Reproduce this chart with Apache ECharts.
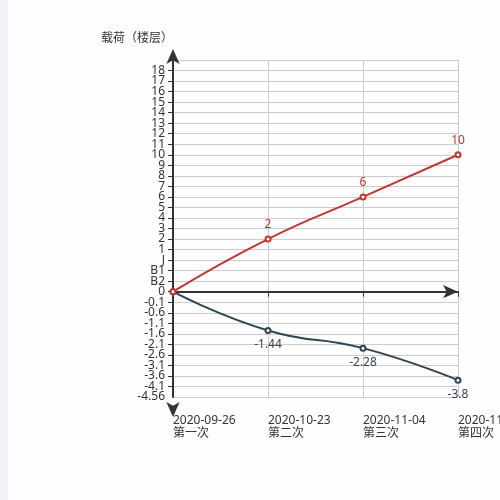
<!DOCTYPE html>
<html>
<head>
<meta charset="utf-8">
<script src="https://cdn.jsdelivr.net/npm/echarts@6/dist/echarts.min.js"></script>
<style>
  html, body { margin: 0; padding: 0; background: #fefefe; }
  #strip { position: absolute; left: 0; top: 0; width: 8px; height: 500px; background: #f2f3f8; }
  #chart { position: absolute; left: 0; top: 0; width: 500px; height: 500px; }
</style>
</head>
<body>
<div id="strip"></div>
<div id="chart"></div>
<script>
// Categories (x axis)
const dates = ['2020-09-26', '2020-10-23', '2020-11-04', '2020-11-19'];
const rounds = ['第一次', '第二次', '第三次', '第四次'];
// Y tick labels from bottom to top (evenly spaced positions)
const yTickLabels = ['-4.56', '-4.1', '-3.6', '-3.1', '-2.6', '-2.1', '-1.6', '-1.1', '-0.6', '-0.1',
  '0', 'B2', 'B1', 'J',
  '1', '2', '3', '4', '5', '6', '7', '8', '9', '10', '11', '12', '13', '14', '15', '16', '17', '18', ''];
// Series values
const upValues = [0, 2, 6, 10];
const downValues = [0, -1.44, -2.28, -3.8];

const zeroIndex = yTickLabels.indexOf('0');
const axisMin = -zeroIndex;
const axisMax = yTickLabels.length - 1 - zeroIndex;

// Map a real value onto the evenly spaced tick-label axis (piecewise linear between numeric ticks)
const numericTicks = [];
yTickLabels.forEach((s, i) => {
  if (s !== '' && !isNaN(Number(s))) numericTicks.push([Number(s), i - zeroIndex]);
});
function toAxis(v) {
  for (let k = 0; k < numericTicks.length - 1; k++) {
    const a = numericTicks[k], b = numericTicks[k + 1];
    if (v === a[0]) return a[1];
    if (v === b[0]) return b[1];
    if (v > a[0] && v < b[0]) return a[1] + (v - a[0]) / (b[0] - a[0]) * (b[1] - a[1]);
  }
  return v < numericTicks[0][0] ? numericTicks[0][1] : numericTicks[numericTicks.length - 1][1];
}
function tickLabel(v) {
  const i = Math.round(v) + zeroIndex;
  return yTickLabels[i] !== undefined ? yTickLabels[i] : '';
}

const font = '"Microsoft YaHei", "Noto Sans", "Noto Sans CJK SC", sans-serif';
const chart = echarts.init(document.getElementById('chart'));
chart.setOption({
  backgroundColor: 'transparent',
  animation: false,
  textStyle: { fontFamily: font },
  grid: { left: 173, right: 42, top: 60, bottom: 103, containLabel: false, outerBoundsMode: 'none' },
  xAxis: [{
    type: 'category',
    data: dates,
    boundaryGap: false,
    axisLine: { onZero: true, symbol: ['none', 'arrow'], symbolOffset: [0, 0],
      lineStyle: { color: '#333', width: 2 } },
    axisTick: { show: true, length: 5, lineStyle: { color: '#333' } },
    axisLabel: { show: false },
    splitLine: { show: true, lineStyle: { color: '#ccc' } }
  }, {
    type: 'category',
    data: dates,
    boundaryGap: false,
    position: 'bottom',
    axisLine: { show: false, onZero: false },
    axisTick: { show: false },
    splitLine: { show: false },
    axisLabel: {
      show: true, interval: 0, align: 'left', margin: 17, color: '#333', fontSize: 12, lineHeight: 13,
      fontFamily: font, hideOverlap: false,
      formatter: (v, i) => v + '\n' + rounds[i]
    }
  }],
  yAxis: [{
    type: 'value',
    position: 'left',
    name: '载荷（楼层）',
    nameGap: 15,
    nameTextStyle: { color: '#333', fontSize: 12, align: 'right', padding: [0, 0, 0, 0], fontFamily: font },
    min: axisMin,
    max: axisMax,
    interval: 1,
    axisLine: { show: true, symbol: ['arrow', 'arrow'], symbolOffset: [-20, 11],
      lineStyle: { color: '#333', width: 2 } },
    axisTick: { show: true, length: 5, lineStyle: { color: '#333' } },
    axisLabel: {
      color: '#333', fontSize: 12, margin: 8, lineHeight: 8, fontFamily: font,
      showMinLabel: false, hideOverlap: false,
      formatter: tickLabel
    },
    splitLine: { show: true, lineStyle: { color: '#ccc' } }
  }, {
    type: 'value',
    position: 'left',
    offset: 0,
    min: axisMin,
    max: axisMax,
    interval: 1,
    axisLine: { show: false, onZero: false },
    axisTick: { show: false },
    splitLine: { show: false },
    axisLabel: {
      color: '#333', fontSize: 12, margin: 8, lineHeight: 8, fontFamily: font,
      showMinLabel: true, hideOverlap: false,
      formatter: v => (Math.round(v) === axisMin ? tickLabel(v) : '')
    }
  }],
  series: [{
    type: 'line',
    smooth: true,
    data: upValues.map(toAxis),
    color: '#c23531',
    symbol: 'emptyCircle',
    symbolSize: 5,
    itemStyle: { color: '#c23531', borderColor: '#c23531', borderWidth: 1 },
    lineStyle: { width: 2, color: '#c23531' },
    label: {
      show: true, position: 'top', color: '#c23531', fontSize: 12, fontFamily: font,
      formatter: p => p.dataIndex === 0 ? '' : String(upValues[p.dataIndex])
    },
    z: 3
  }, {
    type: 'line',
    smooth: true,
    data: downValues.map(toAxis),
    color: '#2f4554',
    symbol: 'emptyCircle',
    symbolSize: 5,
    itemStyle: { color: '#2f4554', borderColor: '#2f4554', borderWidth: 1 },
    lineStyle: { width: 2, color: '#2f4554' },
    label: {
      show: true, position: 'bottom', color: '#2f4554', fontSize: 12, fontFamily: font,
      formatter: p => p.dataIndex === 0 ? '' : String(downValues[p.dataIndex])
    },
    z: 2
  }]
});
</script>
</body>
</html>
